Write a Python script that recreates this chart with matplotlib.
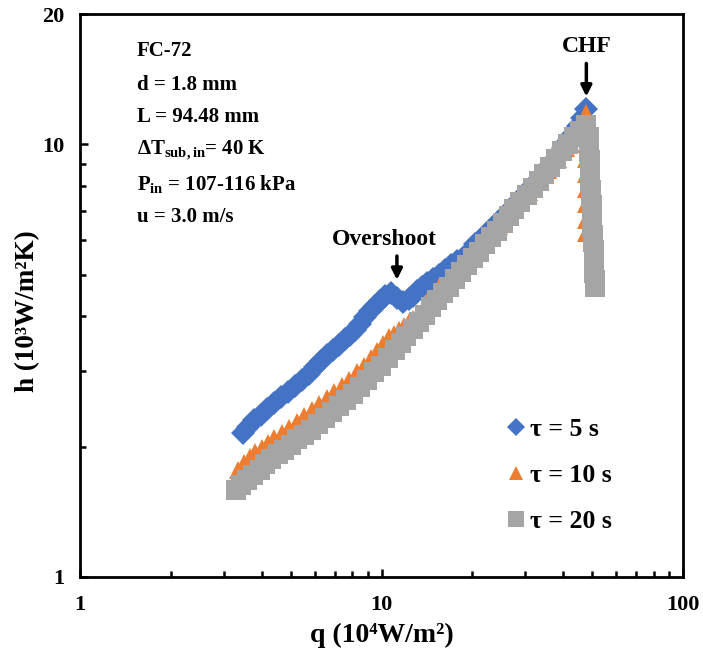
import matplotlib
matplotlib.use("Agg")
from matplotlib import pyplot as plt
from matplotlib.ticker import FixedLocator, NullFormatter

plt.rcParams['font.family'] = ['Liberation Serif', 'DejaVu Serif']
plt.rcParams['font.weight'] = 'bold'
plt.rcParams['mathtext.fontset'] = 'custom'
plt.rcParams['mathtext.rm'] = 'Liberation Serif:bold'
plt.rcParams['mathtext.it'] = 'Liberation Serif:bold:italic'
plt.rcParams['mathtext.bf'] = 'Liberation Serif:bold'

# tau = 5 s
q_5s = [3.46, 3.62, 3.79, 3.98, 4.18, 4.41, 4.65, 4.91, 5.18, 5.46, 5.76, 6.03, 6.31,
        6.60, 6.91, 7.23, 7.57, 7.86, 8.17, 8.49, 8.82, 9.16, 9.52, 9.89, 10.27, 10.75,
        11.25, 11.78, 12.33, 12.7, 13.11, 13.6, 14.14, 14.8, 15.49, 16.2, 16.98, 17.8,
        18.6, 19.5, 20.37, 21.3, 22.33, 23.4, 24.46, 25.6, 26.8, 28.1, 29.4, 30.8, 32.2,
        33.7, 35.2, 36.9, 38.6, 40.1, 41.7, 43.3, 45.0, 46.4, 47.8]
h_5s = [2.15, 2.22, 2.30, 2.37, 2.44, 2.52, 2.60, 2.68, 2.77, 2.86, 2.95, 3.05, 3.15,
        3.25, 3.35, 3.44, 3.54, 3.63, 3.73, 3.85, 3.98, 4.11, 4.24, 4.35, 4.47, 4.52,
        4.42, 4.31, 4.38, 4.47, 4.57, 4.67, 4.77, 4.88, 5.00, 5.12, 5.25, 5.36,
        5.47, 5.65, 5.88, 6.05, 6.25, 6.45, 6.66, 6.88, 7.10, 7.35, 7.60, 7.87, 8.15,
        8.45, 8.77, 9.10, 9.45, 9.80, 10.15, 10.55, 11.0, 11.5, 12.05]

# tau = 10 s
q_10s = [3.33, 3.49, 3.65, 3.82, 4.00, 4.20, 4.41, 4.67, 4.95, 5.24, 5.54, 5.87, 6.21,
         6.58, 6.97, 7.38, 7.81, 8.27, 8.75, 9.20, 9.66, 10.1, 10.6, 11.0, 11.4, 11.85,
         12.3, 12.7, 13.1, 14.2, 15.5, 16.7, 18.0, 19.4, 21.0, 22.7, 24.5, 26.4, 28.5,
         30.8, 33.2, 35.8, 38.6, 40.9, 43.3, 45.5, 47.8,
         48.0, 47.8, 47.6, 47.6, 47.5, 47.5, 47.5, 47.5]
h_10s = [1.77, 1.83, 1.89, 1.94, 1.99, 2.04, 2.10, 2.15, 2.21, 2.28, 2.36, 2.43, 2.51,
         2.59, 2.68, 2.77, 2.86, 2.97, 3.08, 3.20, 3.32, 3.45, 3.58, 3.65, 3.73, 3.81,
         3.89, 3.95, 4.02, 4.33, 4.67, 4.92, 5.19, 5.47, 5.78, 6.12, 6.49, 6.88, 7.30,
         7.74, 8.21, 8.70, 9.23, 9.80, 10.38, 11.1, 11.8,
         10.83, 10.0, 9.23, 8.52, 7.87, 7.26, 6.70, 6.22]

# tau = 20 s
q_20s = [3.28, 3.43, 3.59, 3.76, 3.94, 4.12, 4.31, 4.53, 4.76, 5.00, 5.26, 5.55, 5.85,
         6.17, 6.51, 6.87, 7.24, 7.63, 8.05, 8.49, 8.96, 9.45, 9.96, 10.5, 11.08, 11.6,
         12.1, 12.7, 13.3, 13.9, 14.6, 15.3, 16.0, 16.7, 17.5, 18.3, 19.2, 20.1, 21.0,
         22.0, 23.0, 24.1, 25.2, 26.4, 27.6, 28.9, 30.3, 31.7, 33.2, 34.7, 36.3, 38.0,
         39.8, 41.7, 43.6, 45.7, 47.8,
         48.9, 48.9, 48.9, 49.1, 49.3, 49.3, 49.3, 49.5, 49.6, 49.8, 50.0, 50.0, 50.0,
         50.2, 50.4, 50.6, 50.8, 50.8, 50.8, 51.0, 51.2]
h_20s = [1.59, 1.63, 1.68, 1.72, 1.77, 1.82, 1.87, 1.92, 1.97, 2.02, 2.08, 2.13, 2.19,
         2.26, 2.33, 2.41, 2.49, 2.57, 2.65, 2.75, 2.86, 2.97, 3.08, 3.21, 3.35, 3.48,
         3.61, 3.75, 3.89, 4.04, 4.20, 4.36, 4.52, 4.69, 4.87, 5.06, 5.25, 5.45, 5.65,
         5.87, 6.09, 6.32, 6.56, 6.81, 7.07, 7.34, 7.62, 7.91, 8.21, 8.52, 8.85, 9.23,
         9.63, 10.0, 10.38, 10.74, 11.1,
         10.38, 9.95, 9.58, 9.20, 8.85, 8.50, 8.17, 7.85, 7.54, 7.25, 6.96, 6.69, 6.43,
         6.18, 5.93, 5.70, 5.47, 5.26, 5.05, 4.86, 4.67]

info_lines = ['FC-72', 'd = 1.8 mm', 'L = 94.48 mm', r'ΔT$_{\mathrm{sub,in}}$= 40 K',
              r'P$_{\mathrm{in}}$ = 107-116 kPa', 'u = 3.0 m/s']

fig = plt.figure(figsize=(7.03, 6.59), dpi=100)
ax = fig.add_axes([80 / 703, 82 / 659, 603 / 703, 563 / 659])

ax.plot(q_5s, h_5s, linestyle='none', marker='D', markersize=12, color='#4472C4',
        markeredgewidth=0, label='τ = 5 s')
ax.plot(q_10s, h_10s, linestyle='none', marker='^', markersize=13, color='#ED7D31',
        markeredgewidth=0, label='τ = 10 s')
ax.plot(q_20s, h_20s, linestyle='none', marker='s', markersize=14, color='#A5A5A5',
        markeredgewidth=0, label='τ = 20 s')

ax.set_xscale('log')
ax.set_yscale('log')
ax.set_xlim(1, 100)
ax.set_ylim(1, 20)

ax.xaxis.set_major_locator(FixedLocator([1, 10, 100]))
ax.set_xticklabels(['1', '10', '100'])
ax.xaxis.set_minor_locator(FixedLocator([2, 3, 4, 5, 6, 7, 8, 9, 20, 30, 40, 50, 60, 70, 80, 90]))
ax.xaxis.set_minor_formatter(NullFormatter())
ax.yaxis.set_major_locator(FixedLocator([1, 10, 20]))
ax.set_yticklabels(['1', '10', '20'])
ax.yaxis.set_minor_locator(FixedLocator([2, 3, 4, 5, 6, 7, 8, 9]))
ax.yaxis.set_minor_formatter(NullFormatter())

ax.tick_params(which='both', direction='in', width=1.8, labelsize=16, top=False, right=False)
ax.tick_params(which='major', length=6)
ax.tick_params(which='minor', length=4)
ax.tick_params(axis='x', which='major', pad=13)
ax.tick_params(axis='y', which='major', pad=11)
for s in ax.spines.values():
    s.set_linewidth(2)

ax.set_xlabel('q (10⁴W/m²)', fontsize=20, fontweight='bold')
ax.set_ylabel('h (10³W/m²K)', fontsize=19.5, fontweight='bold')
ax.xaxis.set_label_coords(0.501, -0.082)
ax.yaxis.set_label_coords(-0.066, 0.472)

y_pos = [0.934, 0.874, 0.817, 0.758, 0.698, 0.639]
for txt, yy in zip(info_lines, y_pos):
    ax.text(0.0945, yy, txt, transform=ax.transAxes, fontsize=15, fontweight='bold',
            ha='left', va='center')

# annotations
ax.text(10.2, 6.03, 'Overshoot', fontsize=17, fontweight='bold', ha='center', va='center')
ax.annotate('', xy=(11.25, 4.79), xytext=(11.25, 5.6),
            arrowprops=dict(arrowstyle='-|>', lw=2.5, color='black', mutation_scale=16))
ax.text(47.8, 16.8, 'CHF', fontsize=17, fontweight='bold', ha='center', va='center')
ax.annotate('', xy=(47.8, 12.7), xytext=(47.8, 15.6),
            arrowprops=dict(arrowstyle='-|>', lw=2.5, color='black', mutation_scale=16))

leg = ax.legend(loc='upper left', bbox_to_anchor=(0.668, 0.324), frameon=False,
                prop={'family': 'Liberation Serif', 'weight': 'bold', 'size': 18.5},
                handlelength=0.75, handletextpad=0.2, labelspacing=0.9, markerscale=0.8)

fig.savefig('out.png', dpi=100)
